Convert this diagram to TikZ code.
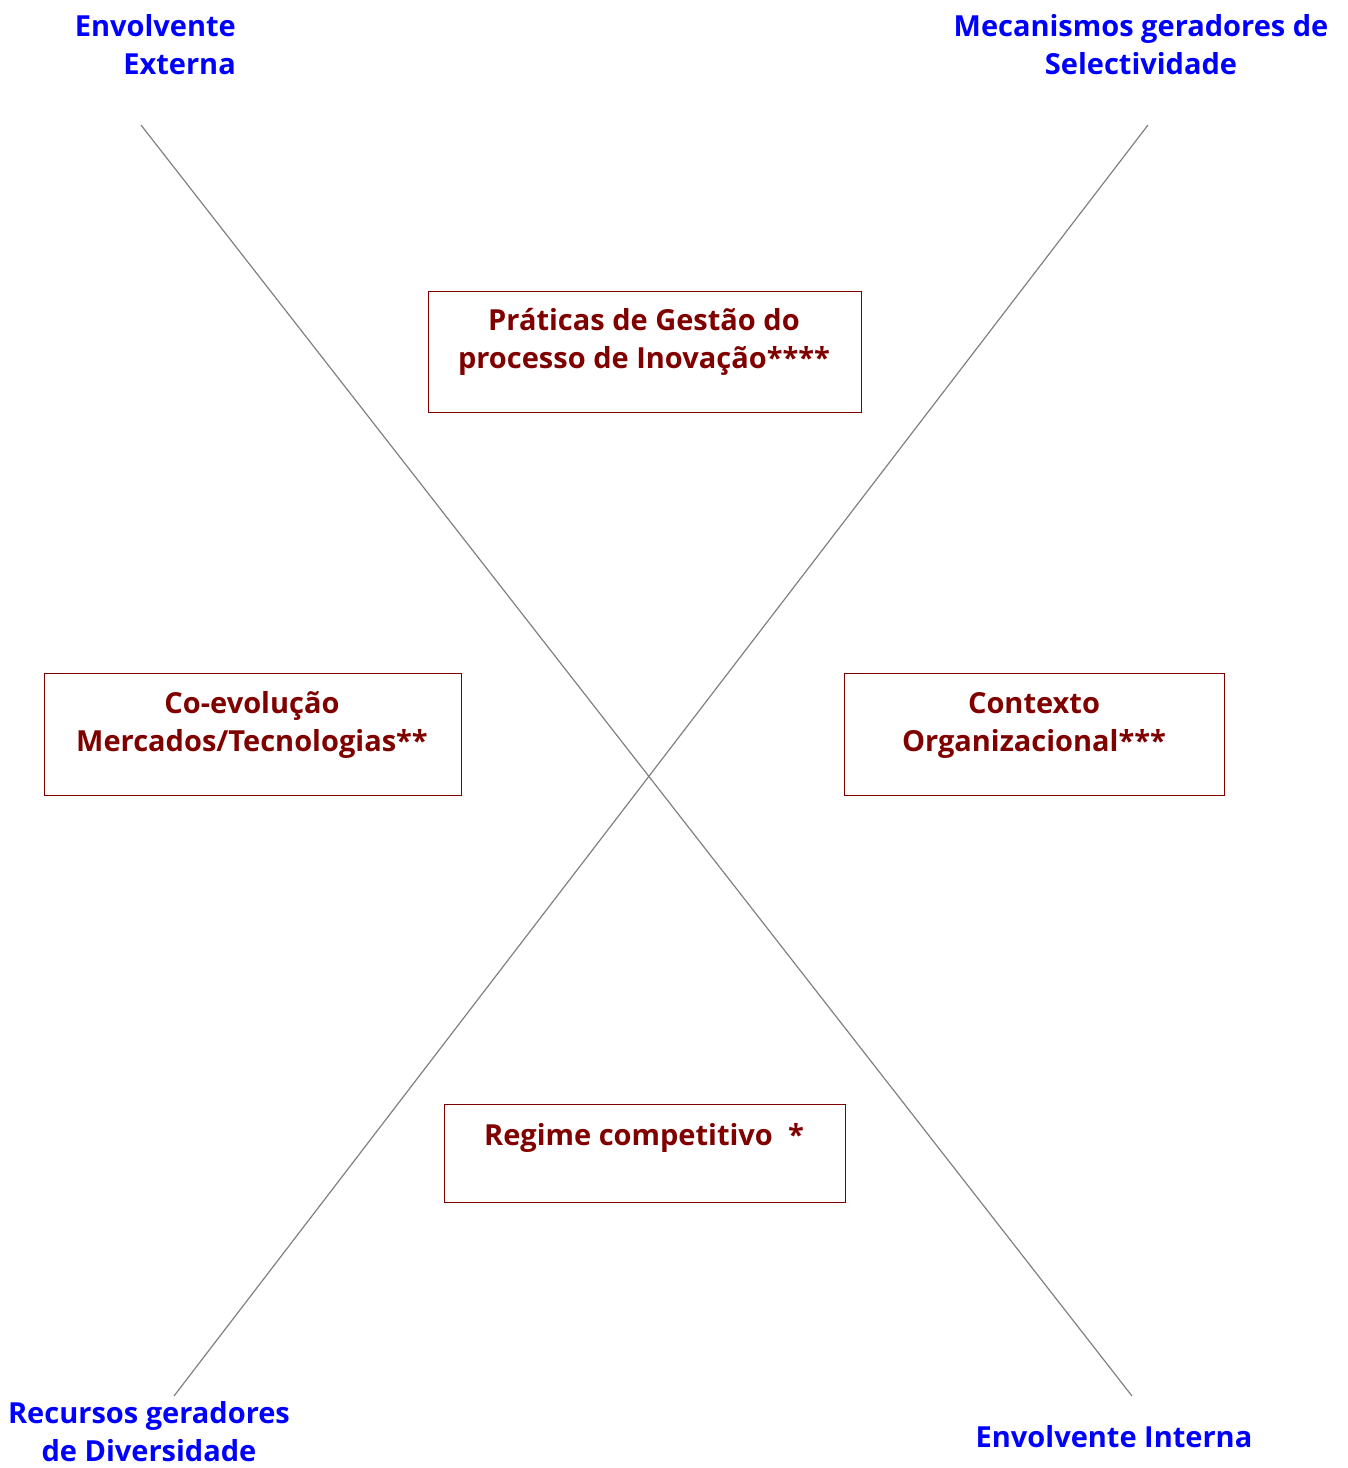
\documentclass[tikz,border=0pt]{standalone}
\usepackage{fontspec}
\setmainfont{Open Sans}
\definecolor{darkred}{HTML}{800000}
\definecolor{labelblue}{HTML}{0000FF}
\definecolor{linegray}{HTML}{808080}
\begin{document}
\begin{tikzpicture}[x=1pt,y=-1pt,
  box/.style={draw=darkred, line width=0.9pt, inner sep=0pt},
  boxtext/.style={text=darkred, font=\fontsize{29}{38}\selectfont\bfseries, align=center, inner sep=0pt},
  corner/.style={text=labelblue, font=\fontsize{29}{38}\selectfont\bfseries, inner sep=0pt},
  axis/.style={draw=linegray, line width=1.2pt}]
\useasboundingbox (0,0) rectangle (1348,1468);
% axes
\coordinate (ee) at (141,125);
\coordinate (ei) at (1132,1396);
\coordinate (ms) at (1148,125);
\coordinate (rd) at (174,1396);
\draw[axis] (ee) -- (ei);
\draw[axis] (ms) -- (rd);
% boxes
\node[box, minimum width=433pt, minimum height=121pt] (btop) at (644.5,351.5) {};
\node[box, minimum width=417pt, minimum height=122pt] (bleft) at (252.5,734) {};
\node[box, minimum width=380pt, minimum height=122pt] (bright) at (1034,734) {};
\node[box, minimum width=401pt, minimum height=98pt] (bbot) at (644.5,1153) {};
% box texts
\node[boxtext] (ttop) at (644,342) {Práticas de Gestão do\\processo de Inovação****};
\node[boxtext] (tleft) at (252,725) {Co-evolução\\Mercados/Tecnologias**};
\node[boxtext] (tright) at (1034,725) {Contexto\\Organizacional***};
\node[boxtext] (tbot) at (644,1138) {Regime competitivo\ \ *};
% corner labels
\node[corner, align=right, anchor=east] (lee) at (236,45) {Envolvente\\Externa};
\node[corner, align=center] (lms) at (1141,45) {Mecanismos geradores de\\Selectividade};
\node[corner, align=center] (lrd) at (149,1432) {Recursos geradores\\de Diversidade};
\node[corner, align=center] (lei) at (1114,1437) {Envolvente Interna};
\end{tikzpicture}
\end{document}
